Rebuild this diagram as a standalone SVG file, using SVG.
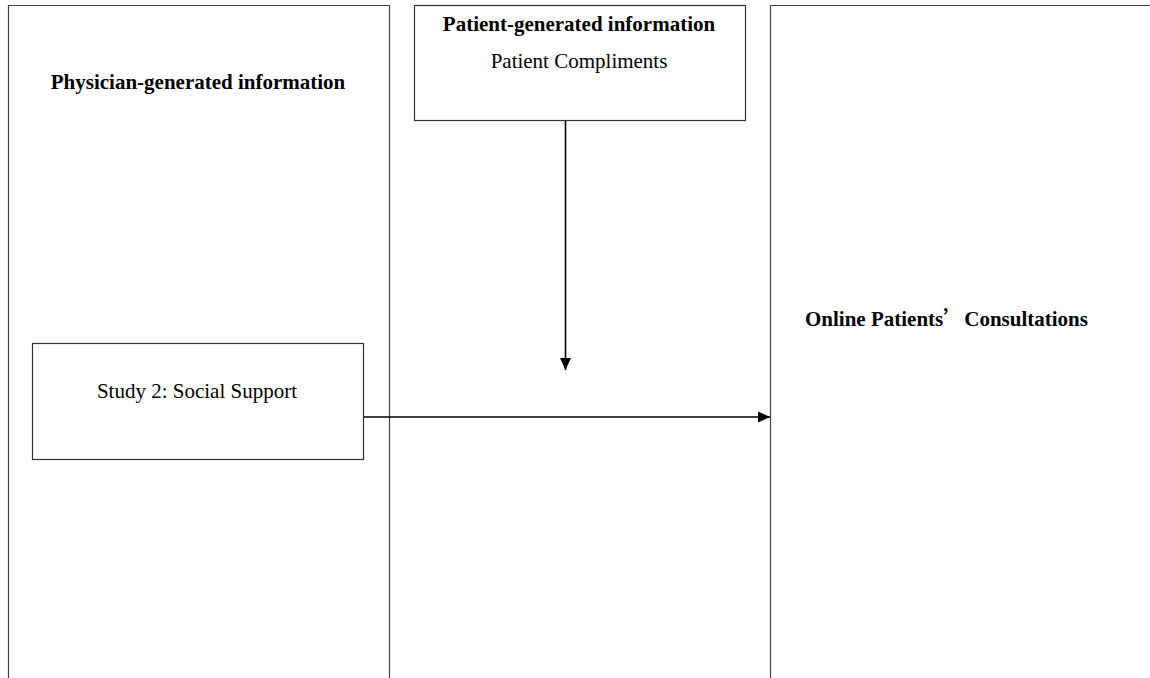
<svg xmlns="http://www.w3.org/2000/svg" width="1150" height="678" viewBox="0 0 1150 678">
<style>
.frame{fill:none;stroke:#444;stroke-width:1.2}
.box{fill:#fff;stroke:#333;stroke-width:1.2}
.conn{stroke:#000;stroke-width:1.6;fill:none}
text{font-family:"Liberation Serif","Noto Sans CJK SC",serif;fill:#000}
.b{font-weight:bold;font-size:21px}
.n{font-size:21px}
.cjk{font-family:"Noto Sans CJK SC",sans-serif}
</style>
<defs>
<marker id="ah" viewBox="0 0 12 11" refX="12" refY="5.5" markerWidth="12" markerHeight="11" markerUnits="userSpaceOnUse" orient="auto">
<path d="M0,0 L12,5.5 L0,11 z" fill="#000"/>
</marker>
</defs>
<g id="physician-panel">
<path class="frame" d="M8.5,678 V5.5 H389.5 V678"/>
<text class="b" x="198" y="89" text-anchor="middle">Physician-generated information</text>
</g>
<g id="consultations-panel">
<path class="frame" d="M770.5,678 V5.5 H1150"/>
<text class="b" x="805" y="326">Online Patients<tspan class="cjk">’</tspan>Consultations</text>
</g>
<g id="patient-box">
<rect class="box" x="414.5" y="5.5" width="331" height="115"/>
<text class="b" x="579" y="31" text-anchor="middle">Patient-generated information</text>
<text class="n" x="579" y="68" text-anchor="middle">Patient Compliments</text>
</g>
<g id="study-box">
<rect class="box" x="32.5" y="343.5" width="331" height="116"/>
<text class="n" x="197" y="398" text-anchor="middle">Study 2: Social Support</text>
</g>
<g id="connectors">
<line class="conn" x1="565.5" y1="121" x2="565.5" y2="370" marker-end="url(#ah)"/>
<line class="conn" x1="364" y1="417" x2="770" y2="417" marker-end="url(#ah)"/>
</g>
</svg>
